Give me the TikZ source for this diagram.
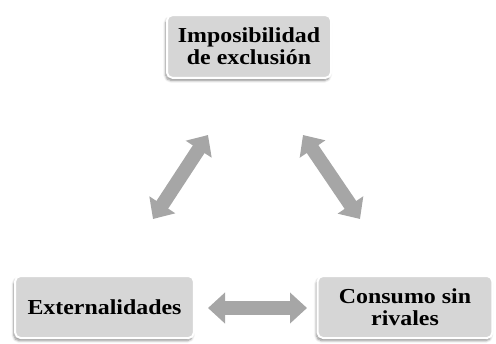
\documentclass[tikz,border=0pt]{standalone}
\usepackage{fontspec}
\setmainfont{Liberation Serif}
\newfontfamily\boxfont[FakeStretch=1.12]{Liberation Serif}
\usetikzlibrary{arrows.meta}
\usetikzlibrary{shadows.blur}
\definecolor{boxgray}{RGB}{214,214,214}
\definecolor{arrowgray}{RGB}{166,166,166}
\tikzset{box/.style={draw=white, line width=1.5pt, fill=boxgray, rounded corners=4pt,
   blur shadow={shadow xshift=-1pt, shadow yshift=-2pt, shadow blur steps=6, shadow opacity=45},
   align=center, font=\boxfont\fontsize{16}{16.3}\selectfont\bfseries, inner sep=2pt},
 bigarrow/.style={draw=arrowgray, line width=10.5pt,
   {Triangle[length=12.75pt,width=22.5pt]}-{Triangle[length=12.75pt,width=22.5pt]}},
 }

\begin{document}
\begin{tikzpicture}[x=0.75pt,y=-0.75pt]
        \useasboundingbox (0,0) rectangle (496,343);
        \node[box, minimum width=123pt, minimum height=47pt] (excl) at (249,46.5) {Imposibilidad\\de exclusión};
        \node[box, minimum width=134pt, minimum height=46.5pt] (ext) at (104.5,307) {Externalidades};
        \node[box, minimum width=131pt, minimum height=46.5pt] (cons) at (405,307) {Consumo sin\\rivales};
        \coordinate (l1) at (208,135);
        \coordinate (l2) at (153,219);
        \coordinate (r1) at (303,135);
        \coordinate (r2) at (360,219);
        \coordinate (h1) at (208,308);
        \coordinate (h2) at (307,308);
        \draw[bigarrow] (l1) -- (l2);
        \draw[bigarrow] (r1) -- (r2);
        \draw[bigarrow] (h1) -- (h2);
    \end{tikzpicture}
\end{document}
